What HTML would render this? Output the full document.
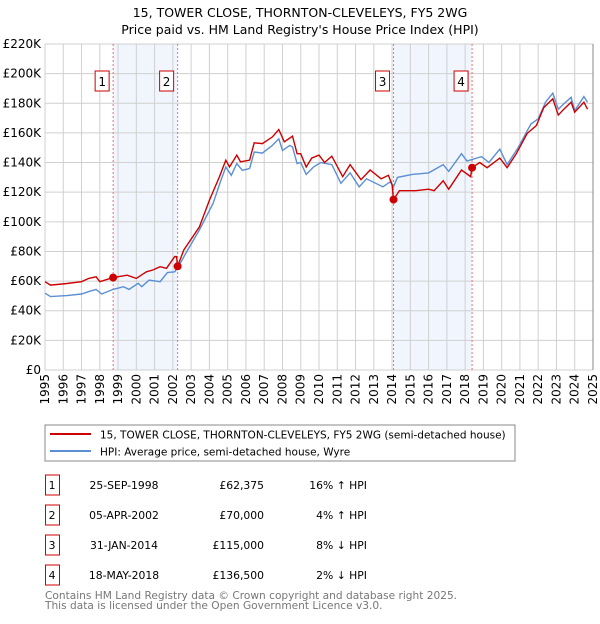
<!DOCTYPE html>
<html><head><meta charset="utf-8"><style>
body{margin:0;background:#fff;font-family:"DejaVu Sans","Liberation Sans",sans-serif;}
svg text{font-family:"DejaVu Sans","Liberation Sans",sans-serif;}
</style></head><body>
<svg id="c" width="600" height="620" xmlns="http://www.w3.org/2000/svg">
<text x="300" y="17" text-anchor="middle" font-size="12.5">15, TOWER CLOSE, THORNTON-CLEVELEYS, FY5 2WG</text>
<text x="300" y="34" text-anchor="middle" font-size="12.5">Price paid vs. HM Land Registry's House Price Index (HPI)</text>
<g id="plot"></g>
<rect x="45" y="425" width="470" height="36" fill="#fff" stroke="#888"/>
<line x1="50" y1="434" x2="91" y2="434" stroke="#cc0000" stroke-width="2"/>
<text x="100" y="438.5" font-size="10.5">15, TOWER CLOSE, THORNTON-CLEVELEYS, FY5 2WG (semi-detached house)</text>
<line x1="50" y1="451" x2="91" y2="451" stroke="#5b8fd4" stroke-width="2"/>
<text x="100" y="455.5" font-size="10.5">HPI: Average price, semi-detached house, Wyre</text>
<g id="table" font-size="10.8"></g>
<text x="45" y="599" font-size="10.6" fill="#777">Contains HM Land Registry data © Crown copyright and database right 2025.</text>
<text x="45" y="609" font-size="10.6" fill="#777">This data is licensed under the Open Government Licence v3.0.</text>
</svg>
<script>
const yTicks=[0,20,40,60,80,100,120,140,160,180,200,220];
const yTickLabels=["£0","£20K","£40K","£60K","£80K","£100K","£120K","£140K","£160K","£180K","£200K","£220K"];
const years=[1995,1996,1997,1998,1999,2000,2001,2002,2003,2004,2005,2006,2007,2008,2009,2010,2011,2012,2013,2014,2015,2016,2017,2018,2019,2020,2021,2022,2023,2024,2025];
const hpiT=[1995,1995.3,1996.2,1997,1997.4,1997.8,1998.1,1998.73,1999.3,1999.6,2000.1,2000.3,2000.7,2001.3,2001.7,2002.1,2002.35,2002.7,2003.45,2004.2,2004.6,2004.9,2005.2,2005.5,2005.8,2006.2,2006.45,2006.9,2007.45,2007.8,2008,2008.4,2008.55,2008.8,2009,2009.3,2009.7,2010.1,2010.7,2011.2,2011.7,2012.2,2012.6,2013.5,2013.9,2014.08,2014.3,2015.1,2016,2016.8,2017.1,2017.8,2018.1,2018.9,2019.3,2019.9,2020.3,2020.9,2021.6,2022,2022.4,2022.8,2023.1,2023.4,2023.8,2024,2024.5,2024.7];
const hpiV=[51.8,49.5,50.2,51.3,52.9,54.4,51.3,54.4,56.2,54.4,58.5,56.2,60.7,59.6,65.7,66.3,70.8,78.7,94.5,112.5,127,137,131.4,139.3,134.8,136,147.1,146.4,151.6,156,148.2,151.6,150.5,139.3,140,132,137,140,138.6,126,133,123.6,129,123.6,127,123.6,130,132,133,138.6,134,146,141,144,140,149,138.6,150,166,169.5,180.7,186.8,176,179.6,184,175,184.5,180.7];
const priceT=[1995,1995.3,1996.2,1997,1997.4,1997.8,1998,1998.73,1999.5,2000,2000.55,2000.9,2001.3,2001.65,2002.1,2002.2,2002.26,2002.6,2003.45,2004,2004.55,2004.9,2005.1,2005.5,2005.7,2006.2,2006.45,2006.9,2007.45,2007.8,2008.1,2008.55,2008.8,2009,2009.3,2009.6,2010,2010.3,2010.7,2011.3,2011.7,2012.3,2012.8,2013.4,2013.8,2014,2014.08,2014.4,2015.3,2016,2016.3,2016.8,2017.1,2017.8,2018.3,2018.38,2018.8,2019.2,2019.9,2020.3,2020.8,2021.4,2021.9,2022.3,2022.8,2023.1,2023.4,2023.8,2024,2024.5,2024.7];
const priceV=[59.6,57.3,58.4,59.6,61.8,62.9,59.6,62.375,64,61.8,66.3,67.5,69.7,68.6,76.5,76.5,70,81,96.6,114.6,130.3,141.6,137,145,140.5,141.6,153.3,152.8,157.3,162.3,154,157.8,146,146,137,143,145,140,144.3,130.5,138.6,128.4,135,129,131.4,125,115,121,121,122,121,127.7,122,135,130.5,136.5,140,136.5,143,136.5,146,159.7,165,177,183,172,176,180.7,174,180.7,176];
const saleLabels=["1","2","3","4"];
const saleT=[1998.73,2002.26,2014.08,2018.38];
const saleV=[62.375,70,115,136.5];
const saleDates=["25-SEP-1998","05-APR-2002","31-JAN-2014","18-MAY-2018"];
const salePrices=["£62,375","£70,000","£115,000","£136,500"];
const saleHpi=["16% ↑ HPI","4% ↑ HPI","8% ↓ HPI","2% ↓ HPI"];

const X0=45,X1=593,Y0=370,Y1=44;
const xs=t=>X0+(t-1995)/(2025-1995)*(X1-X0);
const ys=v=>Y0-v/220*(Y0-Y1);
const NS="http://www.w3.org/2000/svg";
const plot=document.getElementById('plot');
function mk(tag,attrs,parent){const e=document.createElementNS(NS,tag);for(const k in attrs)e.setAttribute(k,attrs[k]);(parent||plot).appendChild(e);return e;}
for(let i=0;i<4;i+=2){
  const r=mk('rect',{x:xs(saleT[i]),y:Y1,width:xs(saleT[i+1])-xs(saleT[i]),height:Y0-Y1,fill:'#eef3fc',opacity:0.8});
  
  
}
yTicks.forEach((v,i)=>{
  const l=mk('line',{x1:X0,x2:X1,y1:ys(v),y2:ys(v),stroke:'#d0d0d0','stroke-width':1});
  
  
  const t=mk('text',{x:X0-4,y:ys(v)+4,'text-anchor':'end','font-size':12});
  t.textContent=yTickLabels[i];
  
  
});
years.forEach(y=>{
  const l=mk('line',{x1:xs(y),x2:xs(y),y1:Y1,y2:Y0,stroke:'#d0d0d0','stroke-width':1});
  
  
  const t=mk('text',{x:0,y:0,'font-size':12,transform:`translate(${xs(y)+4},${Y0+4}) rotate(-90)`,'text-anchor':'end'});
  t.textContent=y;
  
  
});
const ax=mk('line',{x1:X1,x2:X1,y1:Y1,y2:Y0,stroke:'#888','stroke-width':1});


saleT.forEach((t,i)=>{
  const l=mk('line',{x1:xs(t),x2:xs(t),y1:Y1,y2:Y0,stroke:'#f07070','stroke-width':1,'stroke-dasharray':'2,2'});
  
  
  const b=mk('rect',{x:xs(t)-18,y:71,width:14,height:20,fill:'#fff',stroke:'#cc0000'});
  
  
  const tx=mk('text',{x:xs(t)-11,y:86,'text-anchor':'middle','font-size':12});
  tx.textContent=saleLabels[i];
  
  
});
function path(T,V){return T.map((t,i)=>(i?'L':'M')+xs(t).toFixed(1)+','+ys(V[i]).toFixed(1)).join('');}
const hp=mk('path',{d:path(hpiT,hpiV),fill:'none',stroke:'#5b8fd4','stroke-width':1.4});


const pp=mk('path',{d:path(priceT,priceV),fill:'none',stroke:'#cc0000','stroke-width':1.4});


saleT.forEach((t,i)=>{
  const c=mk('circle',{cx:xs(t),cy:ys(saleV[i]),r:4,fill:'#cc0000'});
  
  
});
const tb=document.getElementById('table');
saleLabels.forEach((s,i)=>{
  const yc=485+i*30;
  const b=mk('rect',{x:45.5,y:yc-10,width:14,height:20,fill:'#fff',stroke:'#cc0000'},tb);
  
  
  const vals=[[s,52,'middle'],[saleDates[i],124,'middle'],[salePrices[i],264,'end'],[saleHpi[i],367,'end']];
  const names=['table-row-number','table-sale-date','table-sale-price','table-hpi-diff'];
  vals.forEach((v,j)=>{
    const t=mk('text',{x:v[1],y:yc+4,'text-anchor':v[2]},tb);
    t.textContent=v[0];
    
    
  });
});
</script>
</body></html>
